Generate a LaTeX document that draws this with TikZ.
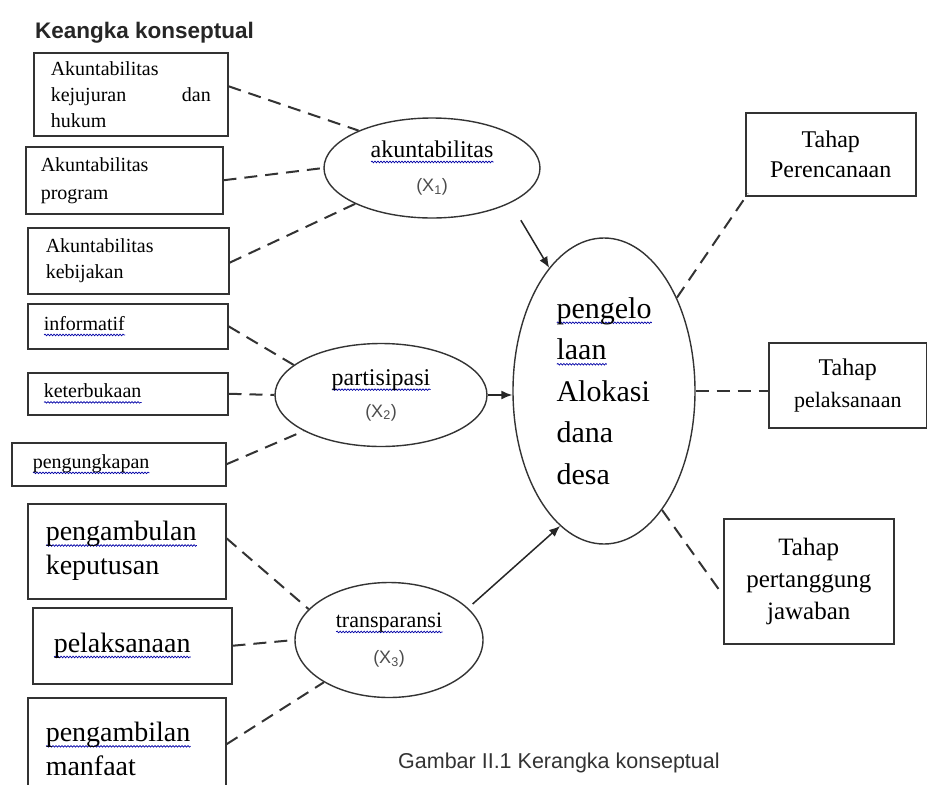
\documentclass[tikz,border=0pt]{standalone}
\usepackage{fontspec}
\setmainfont{Liberation Serif}
\newfontfamily\arialf{Liberation Sans}
\usetikzlibrary{shapes.geometric,arrows.meta,calc,decorations.pathmorphing}
\newlength\sqlen
\newcommand\sqw[1]{\settowidth\sqlen{#1}\leavevmode\rlap{\raisebox{-4.5pt}{\tikz[x=1pt,y=1pt,baseline=0pt]\draw[blue!65!black, line width=0.7pt, decorate, decoration={snake, amplitude=0.8pt, segment length=3pt}] (0pt,0pt) -- (\sqlen,0pt);}}#1}
\newcommand\xlab[1]{{\arialf\fontsize{18}{20}\selectfont\color{black!70}(X\textsubscript{#1})}}
\tikzset{
  box/.style={draw=black!80, line width=1.5pt, rectangle, anchor=north west, inner ysep=0pt, align=left},
  rbox/.style={draw=black!80, line width=1.5pt, rectangle, anchor=north west, inner sep=0pt, align=center},
  ell/.style={draw=black!80, line width=1.4pt, ellipse, inner sep=0pt, align=center},
  dsh/.style={draw=black!80, line width=2pt, dash pattern=on 13pt off 8pt},
  arr/.style={draw=black!85, line width=1.5pt, -{Latex[length=11pt,width=9pt]}},
  sm/.style={font=\fontsize{20}{26}\selectfont},
  big/.style={font=\fontsize{28}{34}\selectfont}
}
\begin{document}
\begin{tikzpicture}[x=1pt,y=-1pt]
\useasboundingbox (0,0) rectangle (927,785);
\clip (0,0) rectangle (927,785);

% title
\node[anchor=base west, inner sep=0pt, font=\arialf\bfseries\fontsize{22.5}{24}\selectfont, text=black!85] (title) at (35,38) {Keangka konseptual};

% left boxes: akuntabilitas
\node[box, sm, minimum width=194pt, minimum height=83pt, inner xsep=17pt, text width=160pt] (b1) at (33,52)
  {Akuntabilitas\\ kejujuran\hskip0pt plus1fill dan\\ hukum};
\node[box, font=\fontsize{20}{28}\selectfont, minimum width=197pt, minimum height=67pt, inner xsep=15pt, text width=167pt] (b2) at (25,146)
  {Akuntabilitas\\ program};
\node[box, sm, minimum width=201pt, minimum height=66pt, inner xsep=18pt, text width=165pt] (b3) at (27,227)
  {Akuntabilitas\\ kebijakan};

% left boxes: partisipasi
\node[box, sm, minimum width=200pt, minimum height=45pt, inner xsep=16pt, text width=168pt] (p1) at (27,303) {\sqw{informatif}};
\node[box, sm, minimum width=200pt, minimum height=42pt, inner xsep=16pt, text width=168pt] (p2) at (27,372) {\sqw{keterbukaan}};
\node[box, sm, minimum width=214pt, minimum height=43pt, inner xsep=21pt, text width=172pt] (p3) at (11,442) {\sqw{pengungkapan}};

% left boxes: transparansi
\node[box, big, minimum width=198pt, minimum height=95pt, inner xsep=18pt, text width=162pt] (t1) at (27,503)
  {\sqw{pengambulan}\\ keputusan};
\node[box, big, minimum width=199pt, minimum height=76pt, inner xsep=21pt, text width=157pt] (t2) at (32,607)
  {\sqw{pelaksanaan}};
\node[box, big, minimum width=198pt, minimum height=103pt, inner xsep=18pt, text width=162pt] (t3) at (27,697)
  {\sqw{pengambilan}\\ manfaat};

% ellipses
\node[ell, minimum width=216pt, minimum height=100pt, font=\fontsize{24}{30}\selectfont] (e1) at (432,168)
  {\sqw{akuntabilitas}\\[4pt] \xlab{1}};
\node[ell, minimum width=212pt, minimum height=103pt, font=\fontsize{24}{28}\selectfont] (e2) at (381,395)
  {\sqw{partisipasi}\\[4pt] \xlab{2}};
\node[ell, minimum width=188pt, minimum height=115pt, font=\fontsize{22}{28}\selectfont] (e3) at (389,640)
  {\sqw{transparansi}\\[8pt] \xlab{3}};
\node[ell, minimum width=182pt, minimum height=306pt, align=left, font=\fontsize{30}{41.5}\selectfont] (m) at (604,391)
  {\sqw{pengelo}\\ \sqw{laan}\\ Alokasi\\ dana\\ desa};

% right boxes
\node[rbox, font=\fontsize{24}{30}\selectfont, minimum width=170pt, minimum height=83pt] (r1) at (745,112)
  {Tahap\\ Perencanaan};
\node[rbox, font=\fontsize{24}{32}\selectfont, minimum width=158pt, minimum height=85pt] (r2) at (768,342)
  {Tahap\\ {\fontsize{22}{32}\selectfont pelaksanaan}};
\node[rbox, font=\fontsize{25}{32}\selectfont, minimum width=170pt, minimum height=125pt] (r3) at (723,518)
  {Tahap\\ pertanggung\\ jawaban};

% caption
\node[anchor=base west, inner sep=0pt, font=\arialf\fontsize{21.5}{24}\selectfont, text=black!80] (cap) at (398,768) {Gambar II.1 Kerangka konseptual};

% connectors: akuntabilitas
\draw[dsh] ([yshift=8pt]b1.east) -- (e1.153);
\draw[dsh] (b2.east) -- (e1.west);
\draw[dsh] ([yshift=-2pt]b3.east) -- (e1.205);
\draw[arr, shorten <=20pt] (e1.-24) -- (m.114);

% partisipasi
\draw[dsh] (p1.east) -- (e2.161);
\draw[dsh] (p2.east) -- (e2.west);
\draw[dsh] (p3.east) -- (e2.205);
\draw[arr] (e2.east) -- (m.west |- e2.east);

% transparansi
\draw[dsh] ([yshift=13pt]t1.east) -- (e3.159);
\draw[dsh] (t2.east) -- (e3.west);
\draw[dsh] ([yshift=5pt]t3.east) -- (e3.213);
\draw[arr, shorten <=6pt] (e3.22) -- (m.252);

% right
\draw[dsh] (m.52) -- ([xshift=3pt,yshift=3pt]r1.south west);
\draw[dsh] (m.east) -- (m.east -| r2.west);
\draw[dsh] (m.-64) -- ([yshift=-14pt]r3.west);
\end{tikzpicture}
\end{document}
